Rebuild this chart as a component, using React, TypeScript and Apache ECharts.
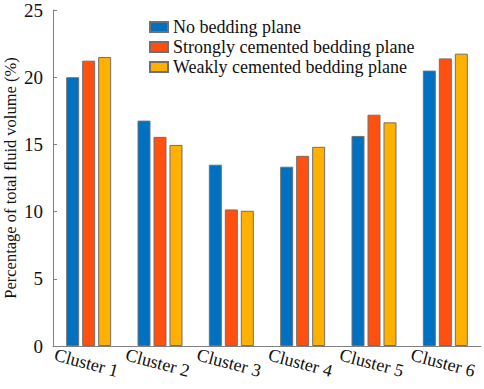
import React, { useEffect, useRef } from "react";
import * as echarts from "echarts";

const categories = ["Cluster 1", "Cluster 2", "Cluster 3", "Cluster 4", "Cluster 5", "Cluster 6"];
const noBedding = [20.0, 16.77, 13.49, 13.34, 15.63, 20.49];
const strongBedding = [21.23, 15.56, 10.16, 14.15, 17.21, 21.4];
const weakBedding = [21.5, 14.96, 10.06, 14.82, 16.64, 21.75];
const seriesNames = ["No bedding plane", "Strongly cemented bedding plane", "Weakly cemented bedding plane"];
const colors = ["#0070C0", "#FF5010", "#FFB000"];

const FONT = "Liberation Serif";

export default function App() {
  const ref = useRef<HTMLDivElement>(null);
  useEffect(() => {
    if (!ref.current) return;
    const chart = echarts.init(ref.current, undefined, { renderer: "svg" });
    const data = [noBedding, strongBedding, weakBedding];
    chart.setOption({
      animation: false,
      backgroundColor: "#ffffff",
      textStyle: { fontFamily: FONT },
      grid: { left: 53, right: 3, top: 10, bottom: 43, outerBoundsMode: "none", containLabel: false },
      legend: {
        left: 144,
        top: 13,
        orient: "vertical",
        itemWidth: 18,
        itemHeight: 10,
        itemGap: 2,
        icon: "rect",
        textStyle: { fontFamily: FONT, fontSize: 18, color: "#111", lineHeight: 18 },
        data: seriesNames,
      },
      xAxis: {
        type: "category",
        data: categories,
        axisLine: { lineStyle: { color: "#808080", width: 1 } },
        axisTick: { show: false },
        axisLabel: {
          interval: 0,
          rotate: -15,
          align: "center",
          verticalAlign: "top",
          margin: 8,
          fontFamily: FONT,
          fontSize: 18,
          color: "#111",
        },
      },
      yAxis: {
        type: "value",
        min: 0,
        max: 25,
        interval: 5,
        name: "Percentage of total fluid volume (%)",
        nameLocation: "middle",
        nameRotate: 90,
        nameGap: 34,
        nameMoveOverlap: false,
        nameTextStyle: { fontFamily: FONT, fontSize: 16.5, color: "#111" },
        splitLine: { show: false },
        axisLine: { show: true, lineStyle: { color: "#808080", width: 1 } },
        axisTick: { show: true, inside: true, length: 4, lineStyle: { color: "#808080" } },
        axisLabel: { fontFamily: FONT, fontSize: 19, color: "#111", margin: 10 },
      },
      series: data.map((d, i) => ({
        type: "bar",
        name: seriesNames[i],
        data: d,
        barWidth: 13,
        barGap: "23%",
        itemStyle: { color: colors[i], borderColor: "#707070", borderWidth: 1 },
      })),
    });
    return () => chart.dispose();
  }, []);
  return <div ref={ref} style={{ width: 484, height: 389, position: "absolute", left: 0, top: 0 }} />;
}
